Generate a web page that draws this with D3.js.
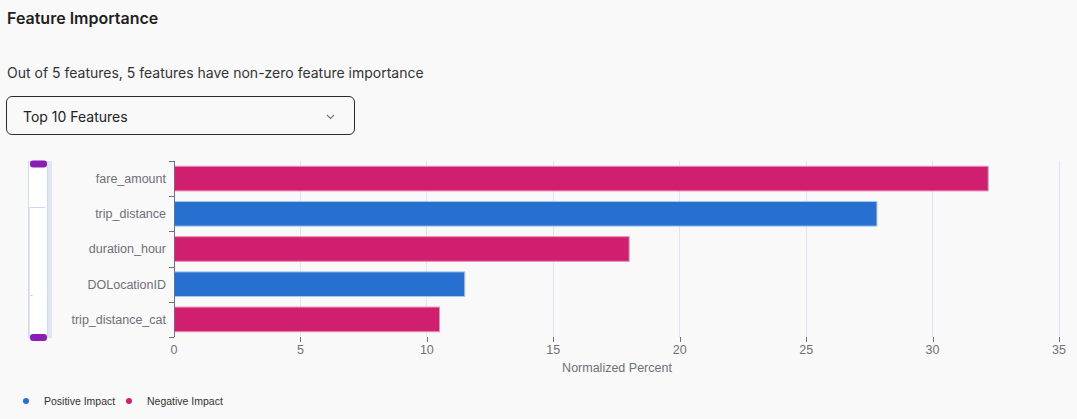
<!DOCTYPE html>
<html><head><meta charset="utf-8">
<script src="https://cdn.jsdelivr.net/npm/d3@7"></script>
<style>
html,body{margin:0;padding:0;background:#f9f9fa;}
body{width:1077px;height:419px;overflow:hidden;position:relative;font-family:Inter,"Noto Sans",sans-serif;}
#title{position:absolute;left:7px;top:8px;font-size:16px;font-weight:600;color:#1f1f1f;}
#sub{position:absolute;left:7px;top:64px;font-size:14px;color:#333;}
#dd{position:absolute;left:6px;top:96px;width:349px;height:39px;border:1px solid #2b2b2b;border-radius:6px;box-sizing:border-box;}
#dd span{position:absolute;left:16px;top:11px;font-size:14px;color:#222;}
svg{position:absolute;left:0;top:0;}
</style></head>
<body>
<div id="title">Feature Importance</div>
<div id="sub">Out of 5 features, 5 features have non-zero feature importance</div>
<div id="dd"><span>Top 10 Features</span></div>
<svg id="chart" width="1077" height="419"></svg>
<script>
const features = ["fare_amount","trip_distance","duration_hour","DOLocationID","trip_distance_cat"];
const values = [32.2, 27.8, 18.0, 11.5, 10.5];
const impact = ["Negative","Positive","Negative","Positive","Negative"];
const xTicks = [0,5,10,15,20,25,30,35];
const legendLabels = ["Positive Impact","Negative Impact"];

const fill = {Positive:"#2870cf", Negative:"#d01f6e"};
const edge = {Positive:"#a9c8f0", Negative:"#ec8db7"};
const svg = d3.select("#chart");
const labFont = "'Liberation Sans','Noto Sans',sans-serif";

const x = d3.scaleLinear().domain([0,35]).range([174,1059]);
const y = d3.scaleBand().domain(features).range([161,337]).paddingInner(0.3).paddingOuter(0.15);

// grid
svg.append("g").selectAll("line").data(xTicks.slice(1)).join("line")
  .attr("x1",d=>x(d)).attr("x2",d=>x(d)).attr("y1",161).attr("y2",337)
  .attr("stroke","#e0e6f1").attr("stroke-width",1).attr("shape-rendering","crispEdges");

// bars
svg.append("g").selectAll("rect").data(features).join("rect")
  .attr("x",x(0)+0.5).attr("y",d=>y(d))
  .attr("width",(d,i)=>x(values[i])-x(0)-0.5).attr("height",y.bandwidth())
  .attr("fill",(d,i)=>fill[impact[i]]).attr("stroke",(d,i)=>edge[impact[i]]).attr("stroke-width",1);

// y axis
const yb = d3.scaleBand().domain(features).range([161,337]);
const yg = svg.append("g");
yg.append("line").attr("x1",174.5).attr("x2",174.5).attr("y1",161).attr("y2",337).attr("stroke","#6e7079");
yg.selectAll("line.t").data(d3.range(features.length+1)).join("line").attr("class","t")
  .attr("x1",169).attr("x2",174).attr("y1",i=>Math.round(161+i*yb.step())+0.5).attr("y2",i=>Math.round(161+i*yb.step())+0.5)
  .attr("stroke","#6e7079");
yg.selectAll("text").data(features).join("text")
  .attr("x",166).attr("y",d=>yb(d)+yb.bandwidth()/2).attr("dy","0.35em")
  .attr("text-anchor","end").attr("font-size",12.5).attr("font-family",labFont).attr("fill","#6e7079").text(d=>d);

// x axis
const xg = svg.append("g").attr("transform","translate(0,337)");
xg.selectAll("line").data(xTicks.slice(1)).join("line")
  .attr("x1",d=>Math.round(x(d))+0.5).attr("x2",d=>Math.round(x(d))+0.5).attr("y1",0).attr("y2",5).attr("stroke","#6e7079");
xg.selectAll("text").data(xTicks).join("text")
  .attr("x",d=>x(d)).attr("y",17).attr("text-anchor","middle").attr("font-size",12.5)
  .attr("font-family",labFont).attr("fill","#6e7079").text(d=>d);
svg.append("text").attr("x",617).attr("y",372).attr("text-anchor","middle").attr("font-size",12.5)
  .attr("font-family",labFont).attr("fill","#6e7079").text("Normalized Percent");

// slider (dataZoom)
const sl = svg.append("g");
sl.append("rect").attr("x",48).attr("y",161).attr("width",4).attr("height",177).attr("fill","#dfe5f1");
sl.append("rect").attr("x",28.5).attr("y",161.5).attr("width",19).attr("height",176).attr("fill","#ffffff").attr("stroke","#d2dbee");
sl.append("line").attr("x1",29).attr("x2",45).attr("y1",207.5).attr("y2",207.5).attr("stroke","#c9d7f2");
sl.append("line").attr("x1",29).attr("x2",33).attr("y1",295.5).attr("y2",295.5).attr("stroke","#c9d7f2");
sl.append("line").attr("x1",29.5).attr("x2",29.5).attr("y1",207).attr("y2",337).attr("stroke","#dde5f5");
sl.append("rect").attr("x",30).attr("y",160.5).attr("width",17).attr("height",7).attr("rx",3).attr("fill","#8a1db4");
sl.append("rect").attr("x",30).attr("y",334).attr("width",17).attr("height",7).attr("rx",3).attr("fill","#8a1db4");

// legend
const lg = svg.append("g");
const lx = [26,129];
lg.selectAll("circle").data(legendLabels).join("circle")
  .attr("cx",(d,i)=>lx[i]).attr("cy",401).attr("r",3).attr("fill",(d,i)=>i===0?fill.Positive:fill.Negative);
lg.selectAll("text").data(legendLabels).join("text")
  .attr("x",(d,i)=>lx[i]+18).attr("y",401).attr("dy","0.35em").attr("font-size",10.5)
  .attr("font-family",labFont).attr("fill","#333").text(d=>d);

// dropdown chevron
svg.append("path").attr("d","M327,115 L330.5,118.5 L334,115").attr("fill","none").attr("stroke","#777").attr("stroke-width",1.1);
</script>
</body></html>
